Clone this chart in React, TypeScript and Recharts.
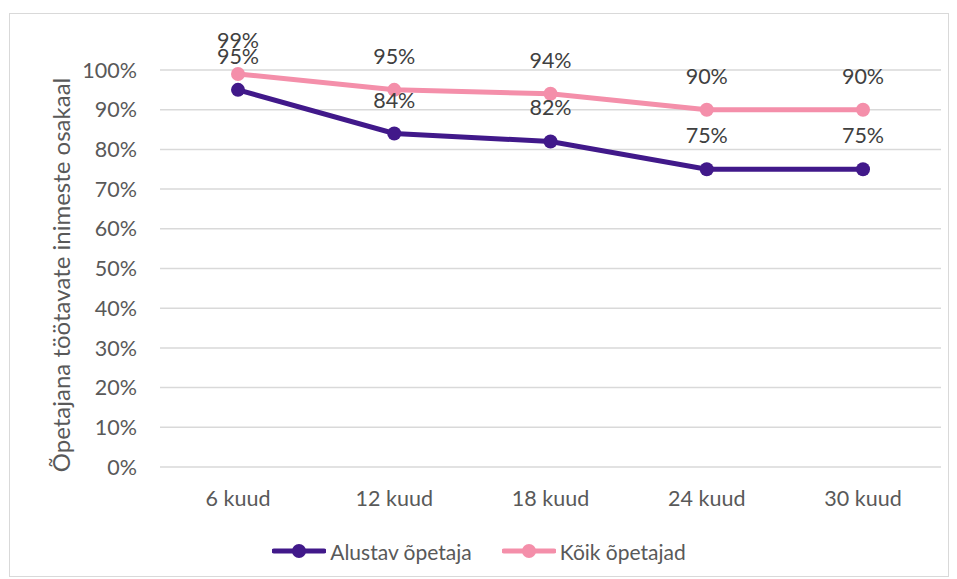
import { LineChart, Line, XAxis, YAxis, CartesianGrid, LabelList, Legend } from 'recharts';

const periods = ['6 kuud', '12 kuud', '18 kuud', '24 kuud', '30 kuud'];
const beginners = [95, 84, 82, 75, 75];
const allTeachers = [99, 95, 94, 90, 90];
const yTicks = [0, 10, 20, 30, 40, 50, 60, 70, 80, 90, 100];

const PURPLE = '#41198a';
const PINK = '#f48faa';
const FONT = 'Lato, "Open Sans", sans-serif';
const TEXT = '#595959';

const data = periods.map((p, i) => ({
  period: p,
  alustav: beginners[i],
  koik: allTeachers[i],
}));

const series = [
  { key: 'alustav', name: 'Alustav õpetaja', color: PURPLE },
  { key: 'koik', name: 'Kõik õpetajad', color: PINK },
];

function LegendBox() {
  return (
    <div style={{ display: 'flex', justifyContent: 'center', gap: 30, fontFamily: FONT, fontSize: 21, color: TEXT, height: 50, alignItems: 'center' }}>
      {series.map((s) => (
        <div key={s.key} style={{ display: 'flex', alignItems: 'center', gap: 4 }}>
          <svg width={54} height={16}>
            <line x1={2} y1={8} x2={52} y2={8} stroke={s.color} strokeWidth={5} strokeLinecap="round" />
            <circle cx={27} cy={8} r={7} fill={s.color} />
          </svg>
          <span>{s.name}</span>
        </div>
      ))}
    </div>
  );
}

export default function App() {
  return (
    <div style={{ position: 'relative', marginTop: 5, marginLeft: 1, width: 938, height: 562, border: '1px solid #d9d9d9', background: '#fff' }}>
      <LineChart width={938} height={562} data={data} margin={{ top: 56, right: 7, left: 90, bottom: 0 }}>
        <CartesianGrid vertical={false} stroke="#d9d9d9" strokeWidth={1.5} />
        <XAxis
          dataKey="period"
          axisLine={false}
          tickLine={false}
          padding={{ left: 78, right: 78 }}
          tick={{ fill: TEXT, fontSize: 21.5, fontFamily: FONT }}
          tickMargin={18}
          height={59}
        />
        <YAxis
          width={60}
          domain={[0, 100]}
          ticks={yTicks}
          interval={0}
          axisLine={false}
          tickLine={false}
          tickSize={0}
          tickMargin={23}
          tickFormatter={(v: number) => `${v}%`}
          tick={{ fill: TEXT, fontSize: 21.5, fontFamily: FONT }}
        />
        <Legend
          verticalAlign="bottom"
          height={50}
          wrapperStyle={{ left: 0, width: 938 }}
          content={() => <LegendBox />}
        />
        {series.map((s) => (
          <Line
            key={s.key}
            dataKey={s.key}
            name={s.name}
            stroke={s.color}
            strokeWidth={5}
            dot={{ r: 7, fill: s.color, stroke: s.color, strokeWidth: 0 }}
            activeDot={false}
            isAnimationActive={false}
          >
            <LabelList
              dataKey={s.key}
              position="top"
              offset={26}
              formatter={(v: number) => `${v}%`}
              style={{ fill: '#404040', fontSize: 21.5, fontFamily: FONT }}
            />
          </Line>
        ))}
      </LineChart>
      <svg width={40} height={562} style={{ position: 'absolute', left: 30, top: 0, pointerEvents: 'none' }}>
        <text
          x={20}
          y={261}
          transform="rotate(-90 20 261)"
          textAnchor="middle"
          dominantBaseline="central"
          fill={TEXT}
          fontSize={24}
          fontFamily={FONT}
        >
          Õpetajana töötavate inimeste osakaal
        </text>
      </svg>
    </div>
  );
}
